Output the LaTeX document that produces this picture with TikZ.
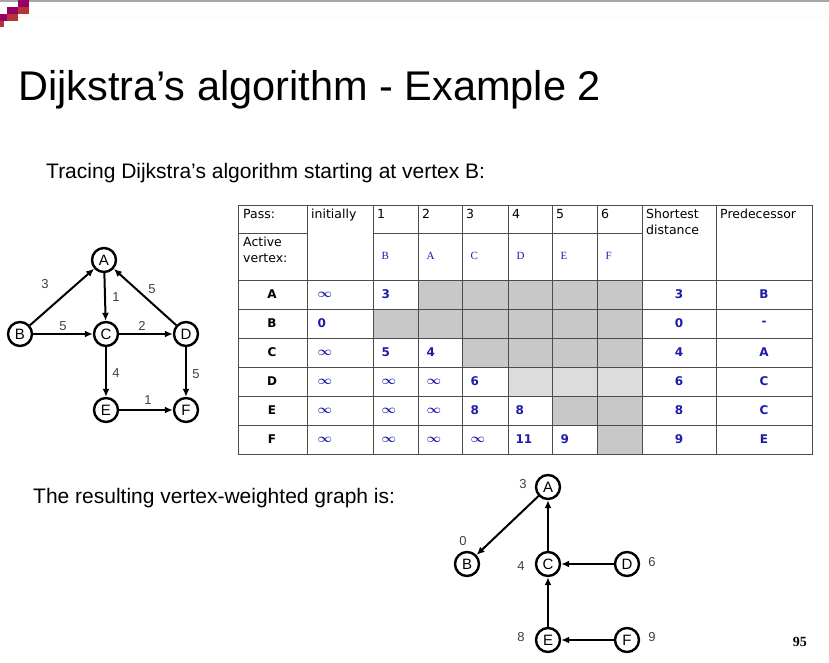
\documentclass[tikz,border=0pt]{standalone}
\usepackage{fontspec}
\setmainfont{Liberation Sans}
\newfontfamily\tabfont{DejaVu Sans}
\newfontfamily\serifs{Liberation Serif}
\usetikzlibrary{arrows.meta}
\definecolor{tblue}{HTML}{1C1CA8}
\definecolor{cellgray}{HTML}{C8C8C8}
\definecolor{cellpale}{HTML}{DCDCDC}
\usepackage{amsmath}
\newcommand{\inft}{\scalebox{1.05}[1.0]{$\boldsymbol{\infty}$}}
\tikzset{
  vtx/.style={circle, draw, line width=2.4pt, minimum size=24pt, inner sep=0pt, font=\fontsize{15}{15}\selectfont},
  edge/.style={line width=2pt, -{Latex[length=8pt,width=7pt]}},
  wt/.style={font=\fontsize{13}{13}\selectfont, text=black!75},
  cell/.style={font=\tabfont\bfseries\fontsize{12}{12}\selectfont, text=tblue},
  head/.style={font=\tabfont\fontsize{12.5}{16}\selectfont, anchor=north west, align=left, inner sep=2pt},
  act/.style={font=\serifs\fontsize{11}{11}\selectfont, text=tblue}
}
\begin{document}
\begin{tikzpicture}[x=1pt, y=-1pt]
  \useasboundingbox (0,0) rectangle (829,662);

  % slide header
  \fill[black!8!white!92!yellow!10] (0,6) rectangle (829,20);
  \fill[black!35] (0,0) rectangle (829,1.5);
  \fill[violet!80!red] (18,0) rectangle (29,7);
  \fill[red!65!black!80] (18,7) rectangle (29,14);
  \fill[violet!80!red] (7,7) rectangle (18,14);
  \fill[red!65!black!80] (7,14) rectangle (18,21);
  \fill[violet!80!red] (0,14) rectangle (7,21);
  \fill[red!65!black!80] (0,21) rectangle (4,27);

  \node[anchor=base west, inner sep=0pt, font=\fontsize{41.5}{41.5}\selectfont] (title) at (18,100) {Dijkstra’s algorithm - Example 2};
  \node[anchor=base west, inner sep=0pt, font=\fontsize{21}{21}\selectfont] (trace) at (46,178) {Tracing Dijkstra’s algorithm starting at vertex B:};
  \node[anchor=base west, inner sep=0pt, font=\fontsize{21}{21}\selectfont] (result) at (33,503) {The resulting vertex-weighted graph is:};
  \node[anchor=base east, inner sep=0pt, font=\serifs\bfseries\fontsize{14}{14}\selectfont] (page) at (807,646) {95};

  % first graph
  \node[vtx] (A) at (104,260) {A};
  \node[vtx] (B) at (20,334) {B};
  \node[vtx] (C) at (106,334) {C};
  \node[vtx] (D) at (186,334) {D};
  \node[vtx] (E) at (106,410) {E};
  \node[vtx] (F) at (186,410) {F};
  \draw[edge] (B) -- (A);
  \draw[edge] (A) -- (C);
  \draw[edge] (D) -- (A);
  \draw[edge] (B) -- (C);
  \draw[edge] (C) -- (D);
  \draw[edge] (C) -- (E);
  \draw[edge] (D) -- (F);
  \draw[edge] (E) -- (F);
  \node[wt] at (45,284) {3};
  \node[wt] at (116,297) {1};
  \node[wt] at (152,289) {5};
  \node[wt] at (63,326) {5};
  \node[wt] at (142,326) {2};
  \node[wt] at (116,373) {4};
  \node[wt] at (196,374) {5};
  \node[wt] at (148,400) {1};

  % table shading
  \fill[cellgray] (418,280) rectangle (642,309);
  \fill[cellgray] (373,309) rectangle (642,338);
  \fill[cellgray] (462,338) rectangle (642,367);
  \fill[cellpale] (508,367) rectangle (642,396);
  \fill[cellgray] (552,396) rectangle (642,425);
  \fill[cellgray] (597,425) rectangle (642,454);

  % table grid
  \draw[black!70, line width=0.9pt] (238,205) rectangle (812,454);
  \foreach \x in {307,373,418,462,508,552,597,642,716}
    \draw[black!70, line width=0.9pt] (\x,205) -- (\x,454);
  \draw[black!70, line width=0.9pt] (238,233) -- (307,233);
  \draw[black!70, line width=0.9pt] (373,233) -- (642,233);
  \foreach \y in {280,309,338,367,396,425}
    \draw[black!70, line width=0.9pt] (238,\y) -- (812,\y);

  % header texts
  \node[head] at (241,207) {Pass:};
  \node[head] at (309,207) {initially};
  \node[head] at (644,207) {Shortest\\distance};
  \node[head] at (718,207) {Predecessor};
  \node[head] at (241,235) {Active\\vertex:};
  \foreach \n/\x in {1/373,2/418,3/462,4/508,5/552,6/597}
    \node[head] at (\x+2,207) {\n};
  \foreach \v/\x in {B/373,A/418,C/462,D/508,E/552,F/597}
    \node[act, anchor=west] at (\x+5,256) {\v};

  % table rows
  \foreach \r/\y in {A/294.5,B/323.5,C/352.5,D/381.5,E/410.5,F/439.5}
    \node[cell, text=black] at (272,\y) {\r};
  \foreach \c/\y in {\inft/294.5,0/323.5,\inft/352.5,\inft/381.5,\inft/410.5,\inft/439.5}
    \node[cell, anchor=west] at (314,\y) {\c};
  \node[cell, anchor=west] at (378,294.5) {3};
  \node[cell, anchor=west] at (378,352.5) {5};
  \node[cell, anchor=west] at (423,352.5) {4};
  \node[cell, anchor=west] at (378,381.5) {\inft};
  \node[cell, anchor=west] at (423,381.5) {\inft};
  \node[cell, anchor=west] at (467,381.5) {6};
  \node[cell, anchor=west] at (378,410.5) {\inft};
  \node[cell, anchor=west] at (423,410.5) {\inft};
  \node[cell, anchor=west] at (467,410.5) {8};
  \node[cell, anchor=west] at (512,410.5) {8};
  \node[cell, anchor=west] at (378,439.5) {\inft};
  \node[cell, anchor=west] at (423,439.5) {\inft};
  \node[cell, anchor=west] at (467,439.5) {\inft};
  \node[cell, anchor=west] at (512,439.5) {11};
  \node[cell, anchor=west] at (557,439.5) {9};
  \foreach \d/\p/\y in {3/B/294.5,0/-/323.5,4/A/352.5,6/C/381.5,8/C/410.5,9/E/439.5}{
    \node[cell] at (679,\y) {\d};
    \node[cell] at (764,\y) {\p};
  }

  % resulting graph
  \node[vtx] (rA) at (548,487) {A};
  \node[vtx] (rB) at (467,564) {B};
  \node[vtx] (rC) at (548,564) {C};
  \node[vtx] (rD) at (627,564) {D};
  \node[vtx] (rE) at (548,640) {E};
  \node[vtx] (rF) at (627,640) {F};
  \draw[edge] (rA) -- (rB);
  \draw[edge] (rC) -- (rA);
  \draw[edge] (rD) -- (rC);
  \draw[edge] (rE) -- (rC);
  \draw[edge] (rF) -- (rE);
  \node[wt] at (523,484) {3};
  \node[wt] at (463,541) {0};
  \node[wt] at (521,566) {4};
  \node[wt] at (652,562) {6};
  \node[wt] at (521,637) {8};
  \node[wt] at (652,637) {9};
\end{tikzpicture}
\end{document}
